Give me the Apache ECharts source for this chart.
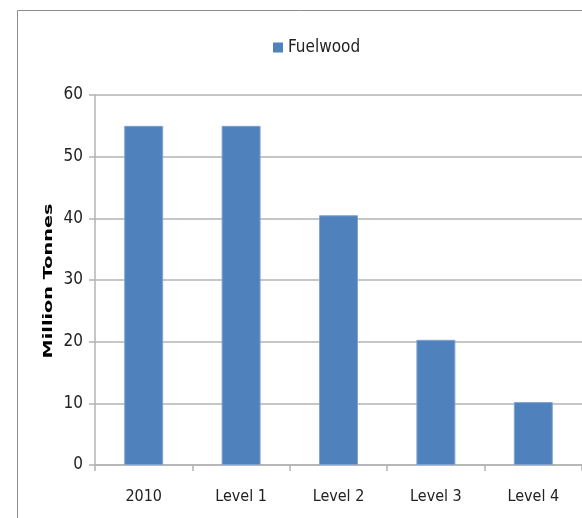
<!DOCTYPE html>
<html>
<head>
<meta charset="utf-8">
<script src="https://cdn.jsdelivr.net/npm/echarts@6/dist/echarts.min.js"></script>
<style>
  html, body { margin: 0; padding: 0; background: #fff; }
  #chart { width: 582px; height: 518px; }
</style>
</head>
<body>
<div id="chart"></div>
<script>
// Fuelwood demand by scenario level
const categories = ['2010', 'Level 1', 'Level 2', 'Level 3', 'Level 4'];
const fuelwood = [55, 55, 40.5, 20.3, 10.2];
const seriesName = 'Fuelwood';
const yTitle = 'Million Tonnes';

const narrow = "'Liberation Sans Narrow', 'DejaVu Sans Condensed', 'Roboto', sans-serif";
const gridGray = '#b3b3b3';
const barBlue = '#4f81bd';

const chart = echarts.init(document.getElementById('chart'), null, { renderer: 'canvas' });
chart.setOption({
  animation: false,
  backgroundColor: '#fff',
  graphic: [
    {
      // chart frame
      type: 'rect',
      shape: { x: 17.5, y: 10.5, width: 600, height: 600 },
      style: { fill: 'none', stroke: '#8c8c8c', lineWidth: 1 },
      silent: true
    },
    {
      // vertical axis title, stretched along its length
      type: 'text',
      x: 49, y: 281,
      rotation: Math.PI / 2,
      scaleX: 1.48,
      style: {
        text: yTitle,
        font: "bold 13px 'DejaVu Sans', sans-serif",
        fill: '#000',
        align: 'center',
        verticalAlign: 'middle'
      },
      silent: true
    }
  ],
  legend: {
    data: [seriesName],
    left: 268, top: 34,
    itemWidth: 10, itemHeight: 10, itemGap: 5,
    icon: 'rect',
    itemStyle: { color: barBlue, borderWidth: 0 },
    textStyle: { fontFamily: narrow, fontSize: 17, color: '#222' }
  },
  grid: { left: 95, right: 0, top: 95, bottom: 53, containLabel: false },
  xAxis: {
    type: 'category',
    data: categories,
    axisLine: { show: true, lineStyle: { color: gridGray, width: 1.5 } },
    axisTick: { show: true, length: 6, lineStyle: { color: gridGray, width: 1.5 } },
    axisLabel: { fontFamily: narrow, fontSize: 16, color: '#222', margin: 24 }
  },
  yAxis: {
    type: 'value',
    min: 0, max: 60, interval: 10,
    axisLine: { show: true, lineStyle: { color: gridGray, width: 1.5 } },
    axisTick: { show: true, length: 6, lineStyle: { color: gridGray, width: 1.5 } },
    axisLabel: { fontFamily: narrow, fontSize: 17, color: '#222', margin: 12 },
    splitLine: { show: true, lineStyle: { color: gridGray, width: 1.5 } }
  },
  series: [{
    name: seriesName,
    type: 'bar',
    data: fuelwood,
    barWidth: '40%',
    itemStyle: { color: barBlue, borderColor: '#7fa3d0', borderWidth: 1 }
  }]
});
</script>
</body>
</html>
